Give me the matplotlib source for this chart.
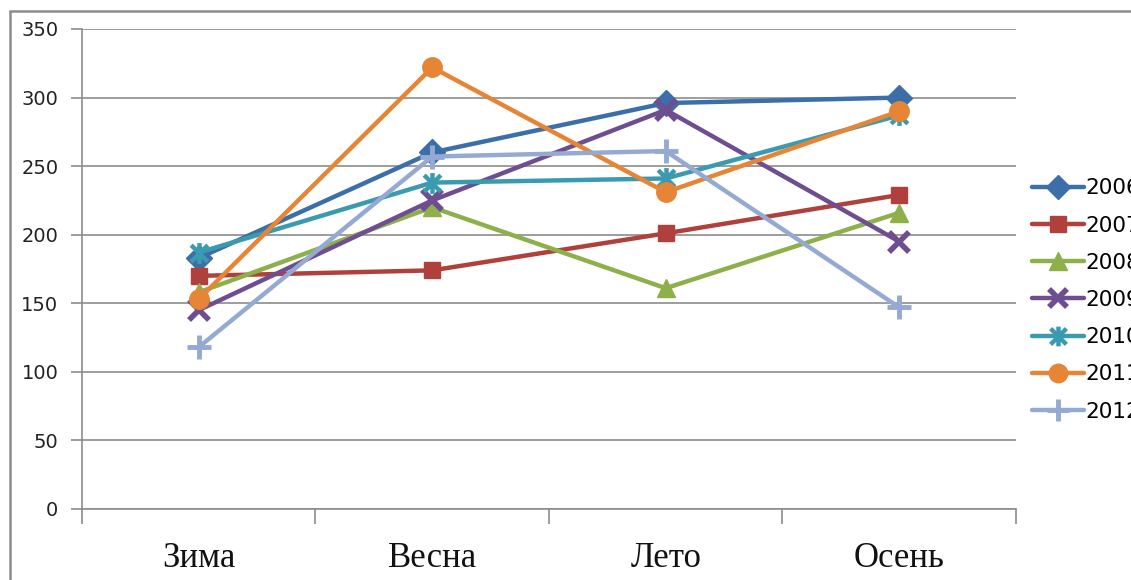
import matplotlib
matplotlib.use("Agg")
import matplotlib.pyplot as plt
from matplotlib.path import Path
from matplotlib.patches import Rectangle
import numpy as np

seasons = ["Зима", "Весна", "Лето", "Осень"]
years = ["2006", "2007", "2008", "2009", "2010", "2011", "2012"]
v2006 = [183, 260, 296, 300]
v2007 = [170, 174, 201, 229]
v2008 = [158, 220, 161, 216]
v2009 = [145, 225, 291, 195]
v2010 = [187, 238, 241, 287]
v2011 = [153, 322, 231, 290]
v2012 = [118, 257, 261, 147]
values = [v2006, v2007, v2008, v2009, v2010, v2011, v2012]
y_ticks = [0, 50, 100, 150, 200, 250, 300, 350]

colors = ["#3C6EAA", "#B0403C", "#8DB04B", "#6E4E91", "#3A9BB0", "#E58535", "#94AAD3"]

star = Path([(-1, -1), (1, 1), (-1, 1), (1, -1), (0, -1.25), (0, 1.25)],
            [Path.MOVETO, Path.LINETO, Path.MOVETO, Path.LINETO, Path.MOVETO, Path.LINETO])
markers = ["D", "s", "^", "x", star, "o", "+"]
msizes = [13, 12, 13, 14, 15, 14, 17]
mews = [1, 1, 1, 4, 3.2, 1, 3.5]

W, H = 1131, 580
fig = plt.figure(figsize=(W / 100, H / 100), dpi=100)
fig.patches.append(Rectangle((10 / W, -0.1), 1.2, 1 - 10.5 / H + 0.1, transform=fig.transFigure,
                             fill=False, edgecolor="#8C8C8C", linewidth=1.8))

ax = fig.add_axes([82 / W, 1 - 509 / H, (1016 - 82) / W, (509 - 29) / H])
x = np.arange(len(seasons))
for yr, vals, c, m, ms, mew in zip(years, values, colors, markers, msizes, mews):
    ax.plot(x, vals, color=c, lw=3.2, marker=m, markersize=ms, markeredgewidth=mew,
            markerfacecolor=c, markeredgecolor=c, label=yr, solid_capstyle="round",
            solid_joinstyle="round", clip_on=False)

ax.set_xlim(-0.5, 3.5)
ax.set_ylim(0, 350)
ax.set_yticks(y_ticks)
ax.set_yticklabels([str(v) for v in y_ticks], fontsize=14,
                   family=["Liberation Sans Narrow", "DejaVu Sans"], color="#222222")
ax.set_xticks(x)
ax.set_xticklabels(seasons, fontsize=25, family=["Liberation Serif", "DejaVu Serif"], color="#111111")
ax.set_xticks(np.arange(-0.5, 4.0, 1.0), minor=True)
ax.tick_params(axis="x", which="major", length=0, pad=24)
ax.tick_params(axis="x", which="minor", length=11, width=1.2, color="#8C8C8C", direction="out")
ax.tick_params(axis="y", length=8, width=1.2, color="#8C8C8C", pad=9)
ax.yaxis.grid(True, color="#8C8C8C", linewidth=1.2)
ax.set_axisbelow(True)
for s in ["top", "right"]:
    ax.spines[s].set_visible(False)
for s in ["left", "bottom"]:
    ax.spines[s].set_color("#8C8C8C")
    ax.spines[s].set_linewidth(1.2)

leg = fig.legend(loc="center left", bbox_to_anchor=(1032 / W, 1 - 300 / H), frameon=False,
                 prop={"family": ["Liberation Sans Narrow", "DejaVu Sans"], "size": 15.5},
                 handlelength=2.4, handletextpad=0.1, labelspacing=0.8, borderpad=0,
                 borderaxespad=0, markerscale=0.95)

fig.savefig("out.png", dpi=100)
